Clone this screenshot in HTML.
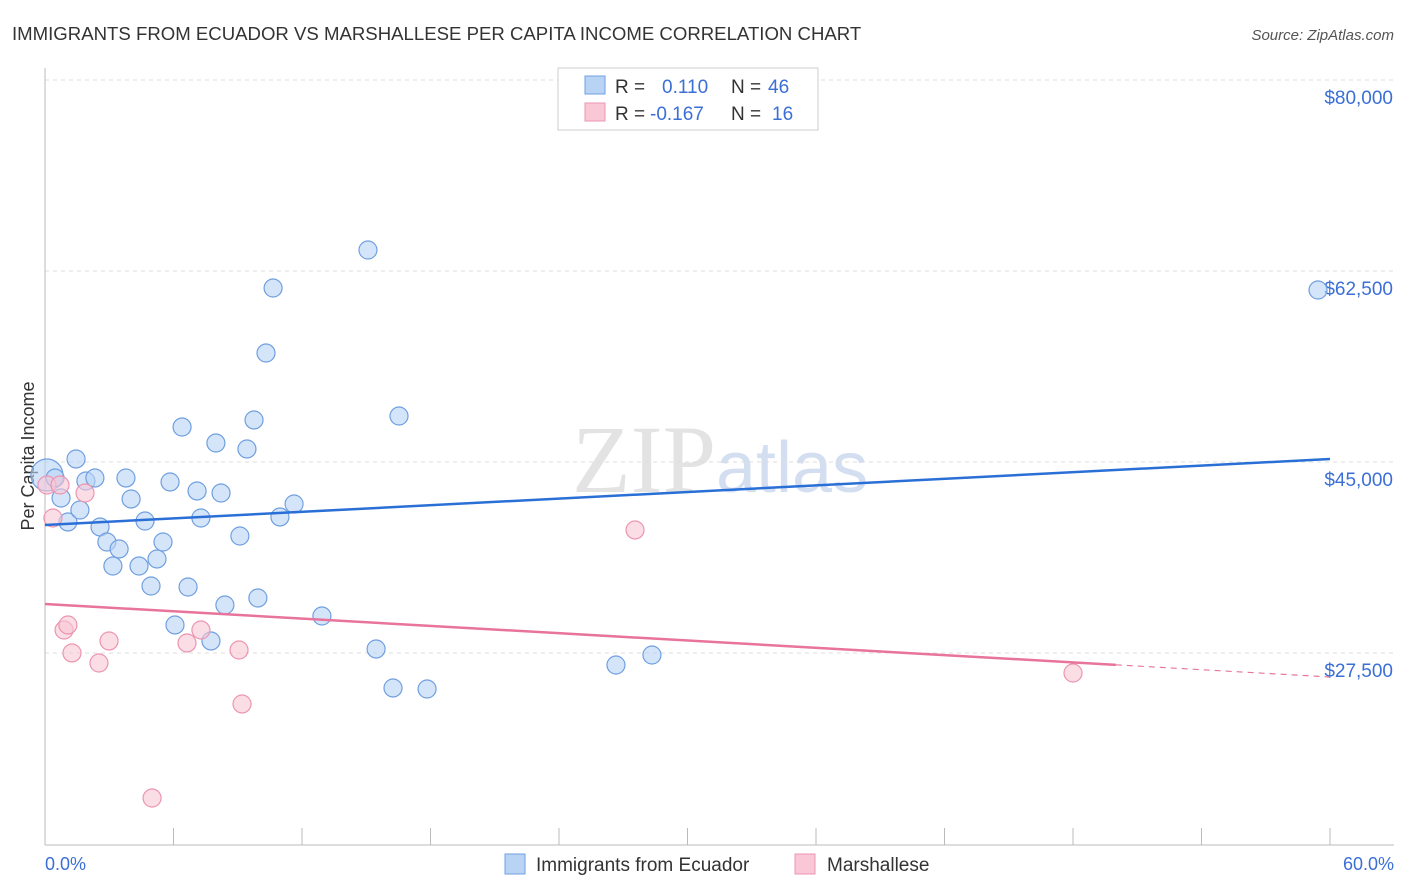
<!DOCTYPE html>
<html><head><meta charset="utf-8"><style>
body{margin:0;background:#fff;font-family:"Liberation Sans",sans-serif;}
</style></head><body>
<svg id="chart" width="1406" height="892" xmlns="http://www.w3.org/2000/svg" style="display:block">
<text x="12" y="40" font-size="18.6" fill="#333">IMMIGRANTS FROM ECUADOR VS MARSHALLESE PER CAPITA INCOME CORRELATION CHART</text>
<text x="1394" y="40" font-size="15" fill="#555" text-anchor="end" font-style="italic">Source: ZipAtlas.com</text>
<text x="720" y="492" font-size="96" fill="#ddd" text-anchor="middle" font-family="Liberation Serif" opacity="0.8">ZIP<tspan fill="#c9d8ee" font-family="Liberation Sans" font-size="72">atlas</tspan></text>
<g id="grid"></g>
<line x1="45" y1="68" x2="45" y2="845" stroke="#bbb"/>
<line x1="45" y1="845" x2="1394" y2="845" stroke="#bbb"/>
<text transform="translate(34,456) rotate(-90)" font-size="18" fill="#333" text-anchor="middle">Per Capita Income</text>
<text x="45" y="870" font-size="18" fill="#3b6fd6">0.0%</text>
<text x="1394" y="870" font-size="18" fill="#3b6fd6" text-anchor="end">60.0%</text>
<g id="marks"></g>
<g>
<rect x="558" y="68" width="260" height="62" fill="#fff" stroke="#ccc"/>
<rect x="585" y="76" width="20" height="18" fill="#b9d3f5" stroke="#6f9fe0"/>
<text x="615" y="93" font-size="19" fill="#333">R =  <tspan fill="#3b6fd6" x="662">0.110</tspan><tspan x="731" fill="#333">N = </tspan><tspan fill="#3b6fd6" x="768">46</tspan></text>
<rect x="585" y="103" width="20" height="18" fill="#f9c7d6" stroke="#ec95b0"/>
<text x="615" y="120" font-size="19" fill="#333">R = <tspan fill="#3b6fd6" x="650">-0.167</tspan><tspan x="731" fill="#333">N = </tspan><tspan fill="#3b6fd6" x="772">16</tspan></text>
</g>
<g>
<rect x="505" y="854" width="20" height="20" fill="#b9d3f5" stroke="#6f9fe0"/>
<text x="536" y="871" font-size="19" fill="#333">Immigrants from Ecuador</text>
<rect x="795" y="854" width="20" height="20" fill="#f9c7d6" stroke="#ec95b0"/>
<text x="827" y="871" font-size="19" fill="#333">Marshallese</text>
</g>
</svg>
<script>
const yTicks=[80000,62500,45000,27500];
const yTickLabels=["$80,000","$62,500","$45,000","$27,500"];
const blueX=[0.09,0.47,0.75,1.07,1.45,1.63,1.91,2.33,2.57,2.89,3.17,3.46,3.78,4.02,4.39,4.67,4.95,5.23,5.51,5.84,6.07,6.40,6.68,7.10,7.28,7.75,7.98,8.22,8.40,9.10,9.43,9.76,9.94,10.32,10.65,10.97,11.63,12.93,15.08,15.46,16.25,16.53,17.84,26.66,28.34,59.44];
const blueY=[45368,45093,43260,41062,46834,42161,44818,45093,40604,39229,37030,38588,45093,43169,37030,41153,35198,37672,39229,44727,31625,49765,35106,43902,41428,30159,48299,43718,33457,39779,47750,50407,34099,56545,62500,41520,42711,32449,65982,29426,25853,50773,25761,27960,28876,62317];
const pinkX=[0.09,0.37,0.70,0.89,1.07,1.26,1.87,2.52,2.99,5.00,6.63,7.28,9.06,9.20,27.55,48.00];
const pinkY=[44451,41428,44451,31166,31625,29060,43718,28143,30159,15773,29976,31166,29334,24387,40329,27227];
const blueTrend=[40786,46833];
const pinkTrend=[33549,26860];
const NS="http://www.w3.org/2000/svg";
const X=p=>45+p/60*1285;
const Y=v=>97+(80000-v)/91.62;
const grid=document.getElementById('grid'),marks=document.getElementById('marks');
function mk(tag,at,parent){const e=document.createElementNS(NS,tag);for(const k in at)e.setAttribute(k,at[k]);parent.appendChild(e);return e;}
yTicks.forEach((v,i)=>{
 const l=mk('line',{x1:45,x2:1394,y1:Y(v)-17,y2:Y(v)-17,stroke:'#ddd','stroke-dasharray':'4,4'},grid);
 
 
 const t=mk('text',{x:1393,y:Y(v)+7,'font-size':19,fill:'#3b6fd6','text-anchor':'end'},grid);
 t.textContent=yTickLabels[i];
 
 
});
for(let i=0;i<=10;i++){
 const l=mk('line',{x1:X(i*6),x2:X(i*6),y1:828,y2:845,stroke:'#bbb'},grid);
 
 
}
blueX.forEach((x,i)=>{
 const c=mk('circle',{cx:X(x),cy:Y(blueY[i]),r:i===0?16:9,fill:'#b9d3f5','fill-opacity':0.6,stroke:'#6f9fe0','stroke-width':1.2},marks);
 
 
});
pinkX.forEach((x,i)=>{
 const c=mk('circle',{cx:X(x),cy:Y(pinkY[i]),r:9,fill:'#f9c7d6','fill-opacity':0.6,stroke:'#ec95b0','stroke-width':1.2},marks);
 
 
});
const bl=mk('line',{x1:X(0),y1:Y(blueTrend[0]),x2:X(60),y2:Y(blueTrend[1]),stroke:'#2a6fd6','stroke-width':2.5},marks);


const pm=pinkTrend[0]+(pinkTrend[1]-pinkTrend[0])*(50/60);
const pl=mk('line',{x1:X(0),y1:Y(pinkTrend[0]),x2:X(50),y2:Y(pm),stroke:'#e8739b','stroke-width':2.5},marks);


const pd=mk('line',{x1:X(50),y1:Y(pm),x2:X(60),y2:Y(pinkTrend[1]),stroke:'#e8739b','stroke-width':1.2,'stroke-dasharray':'6,5'},marks);


</script>
</body></html>
